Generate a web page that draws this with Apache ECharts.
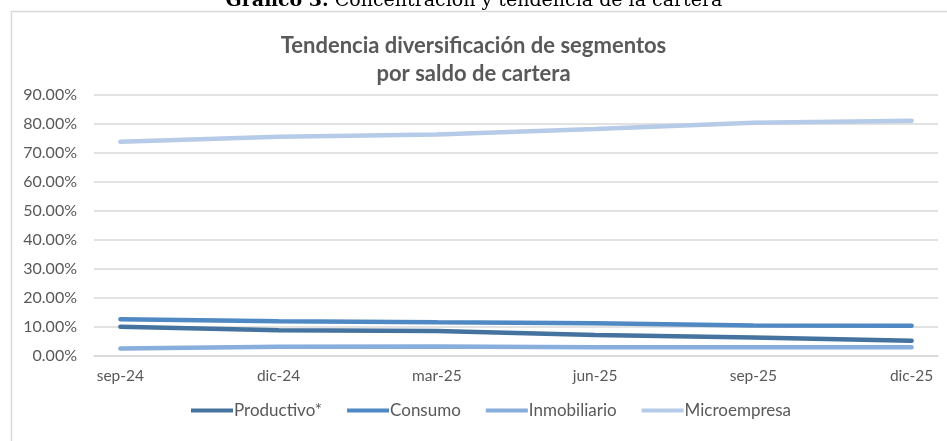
<!DOCTYPE html>
<html>
<head>
<meta charset="utf-8">
<script src="https://cdn.jsdelivr.net/npm/echarts@6/dist/echarts.min.js"></script>
<style>
html,body{margin:0;padding:0;background:#fff;}
#chart{width:947px;height:441px;}
</style>
</head>
<body>
<div id="chart"></div>
<script>
// Monthly category slots (Excel date axis, base unit = month)
const months = ['sep-24','oct-24','nov-24','dic-24','ene-25','feb-25','mar-25','abr-25','may-25','jun-25','jul-25','ago-25','sep-25','oct-25','nov-25','dic-25'];
// Quarterly observations (percent), aligned to months above; null = no observation
const productivo   = [10.1, null, null, 8.9, null, null, 8.6, null, null, 7.2, null, null, 6.4, null, null, 5.3];
const consumo      = [12.7, null, null, 12.0, null, null, 11.6, null, null, 11.3, null, null, 10.5, null, null, 10.4];
const inmobiliario = [2.6, null, null, 3.2, null, null, 3.3, null, null, 3.0, null, null, 3.0, null, null, 3.0];
const microempresa = [73.9, null, null, 75.6, null, null, 76.4, null, null, 78.3, null, null, 80.4, null, null, 81.1];
const seriesNames = ['Productivo*', 'Consumo', 'Inmobiliario', 'Microempresa'];
const seriesColors = ['#44739f', '#4f88c3', '#87aedc', '#b5cbe7'];
const yTicks = [0, 10, 20, 30, 40, 50, 60, 70, 80, 90];

const chart = echarts.init(document.getElementById('chart'), null, {renderer: 'canvas'});
const dataSets = [productivo, consumo, inmobiliario, microempresa];
const sans = 'Lato, "Open Sans", sans-serif';

chart.setOption({
  animation: false,
  backgroundColor: '#ffffff',
  graphic: [
    {
      type: 'rect',
      shape: {x: 11.5, y: 11.5, width: 1000, height: 500},
      style: {fill: 'none', stroke: '#d9d9d9', lineWidth: 1.5},
      silent: true
    },
    {
      type: 'text',
      x: 474, y: 11,
      style: {
        text: '{b|Gráfico 3.} Concentración y tendencia de la cartera',
        rich: {
          b: {fontFamily: '"DejaVu Serif", serif', fontWeight: 'bold', fontSize: 19, fill: '#000'}
        },
        fontFamily: '"DejaVu Serif", serif',
        fontSize: 19,
        fill: '#000',
        align: 'center',
        verticalAlign: 'bottom'
      }
    }
  ],
  title: {
    text: 'Tendencia diversificación de segmentos\npor saldo de cartera',
    left: 'center',
    top: 27,
    textStyle: {
      fontFamily: sans,
      fontSize: 22,
      fontWeight: 'bold',
      color: '#595959',
      lineHeight: 28
    }
  },
  legend: {
    bottom: 17,
    left: 186,
    itemWidth: 42,
    itemHeight: 4,
    itemGap: 25,
    icon: 'rect',
    textStyle: {fontFamily: sans, fontSize: 17, color: '#595959', padding: [0, 0, 0, -4]},
    data: seriesNames
  },
  grid: {left: 94, right: 9, top: 95, bottom: 85, containLabel: false},
  xAxis: {
    type: 'category',
    data: months,
    boundaryGap: true,
    axisLine: {lineStyle: {color: '#d9d9d9', width: 1.5}},
    axisTick: {interval: 2, length: 5, lineStyle: {color: '#d9d9d9', width: 1.5}},
    axisLabel: {interval: 2, fontFamily: sans, fontSize: 15.5, color: '#595959', margin: 12},
    splitLine: {show: false}
  },
  yAxis: {
    type: 'value',
    min: yTicks[0],
    max: yTicks[yTicks.length - 1],
    interval: 10,
    axisLine: {show: false},
    axisTick: {show: false},
    axisLabel: {
      fontFamily: sans, fontSize: 16, color: '#595959', margin: 17,
      formatter: v => v.toFixed(2) + '%'
    },
    splitLine: {lineStyle: {color: '#d9d9d9', width: 1.5}}
  },
  series: seriesNames.map((name, i) => ({
    name: name,
    type: 'line',
    data: dataSets[i],
    connectNulls: true,
    showSymbol: false,
    symbol: 'none',
    lineStyle: {width: 4.5, color: seriesColors[i], cap: 'round'},
    itemStyle: {color: seriesColors[i]},
    z: 2 + (3 - i)
  }))
});
</script>
</body>
</html>
